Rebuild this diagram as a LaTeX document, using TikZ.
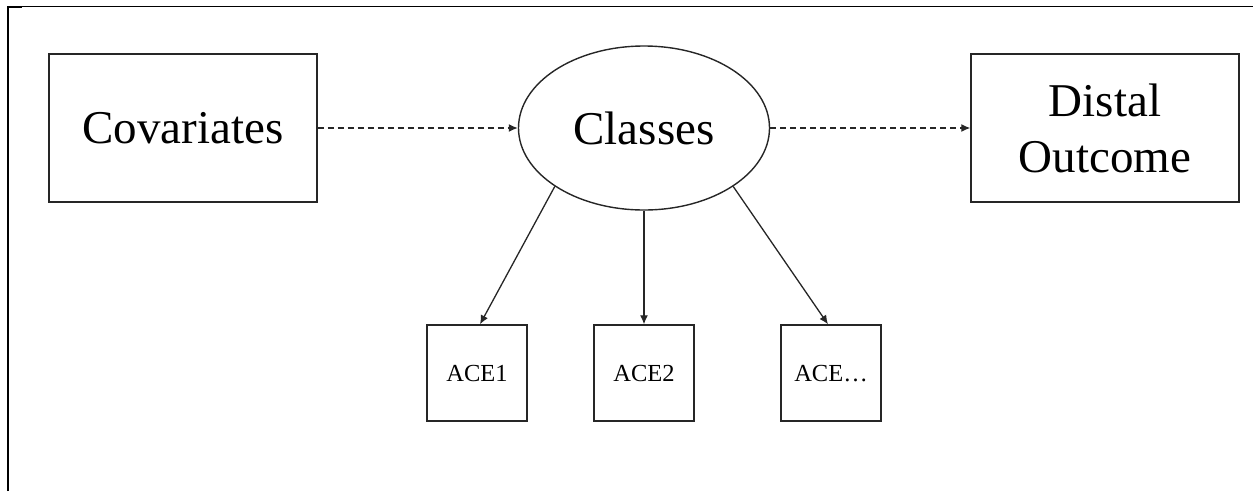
\documentclass[tikz,border=0pt]{standalone}
\usepackage{fontspec}
\setmainfont{Liberation Serif}
\usetikzlibrary{shapes.geometric,arrows.meta}
\tikzset{
  bigbox/.style={draw=black!85, line width=1.4pt, minimum width=268pt, minimum height=148pt, inner sep=0pt, align=center, font=\fontsize{47}{56}\selectfont},
  smallbox/.style={draw=black!85, line width=1.4pt, minimum width=100pt, minimum height=96pt, inner sep=0pt, text height=16pt, text depth=0pt, font=\fontsize{24.5}{29}\selectfont},
  latent/.style={draw=black!85, ellipse, line width=1.4pt, minimum width=251pt, minimum height=164pt, inner sep=0pt, font=\fontsize{47}{56}\selectfont},
  solidarrow/.style={draw=black!85, line width=1.3pt, -{Latex[length=9pt,width=8pt]}},
  dasharrow/.style={draw=black!85, line width=1.3pt, dash pattern=on 6pt off 4pt, -{Latex[length=9pt,width=8pt]}}
}
\begin{document}
\begin{tikzpicture}[x=1pt,y=-1pt]
\useasboundingbox (0,0) rectangle (1253,491);
% frame
\draw[line width=2pt] (8,491) -- (8,7) -- (22,7);
\draw[line width=1.4pt] (22,6.5) -- (1253,6.5);
% nodes
\node[bigbox] (cov) at (183,128) {Covariates};
\node[latent] (cls) at (644,128) {Classes};
\node[bigbox] (dist) at (1105,128) {Distal\\Outcome};
\node[smallbox] (a1) at (477,373) {ACE1};
\node[smallbox] (a2) at (644,373) {ACE2};
\node[smallbox] (a3) at (831,373) {ACE…};
% connectors
\draw[dasharrow] (cov) -- (cls);
\draw[dasharrow] (cls) -- (dist);
\draw[solidarrow] (cls.south west) -- ([xshift=3pt]a1.north);
\draw[solidarrow] (cls.south) -- (a2.north);
\draw[solidarrow] (cls.south east) -- ([xshift=-3pt]a3.north);
\end{tikzpicture}
\end{document}
